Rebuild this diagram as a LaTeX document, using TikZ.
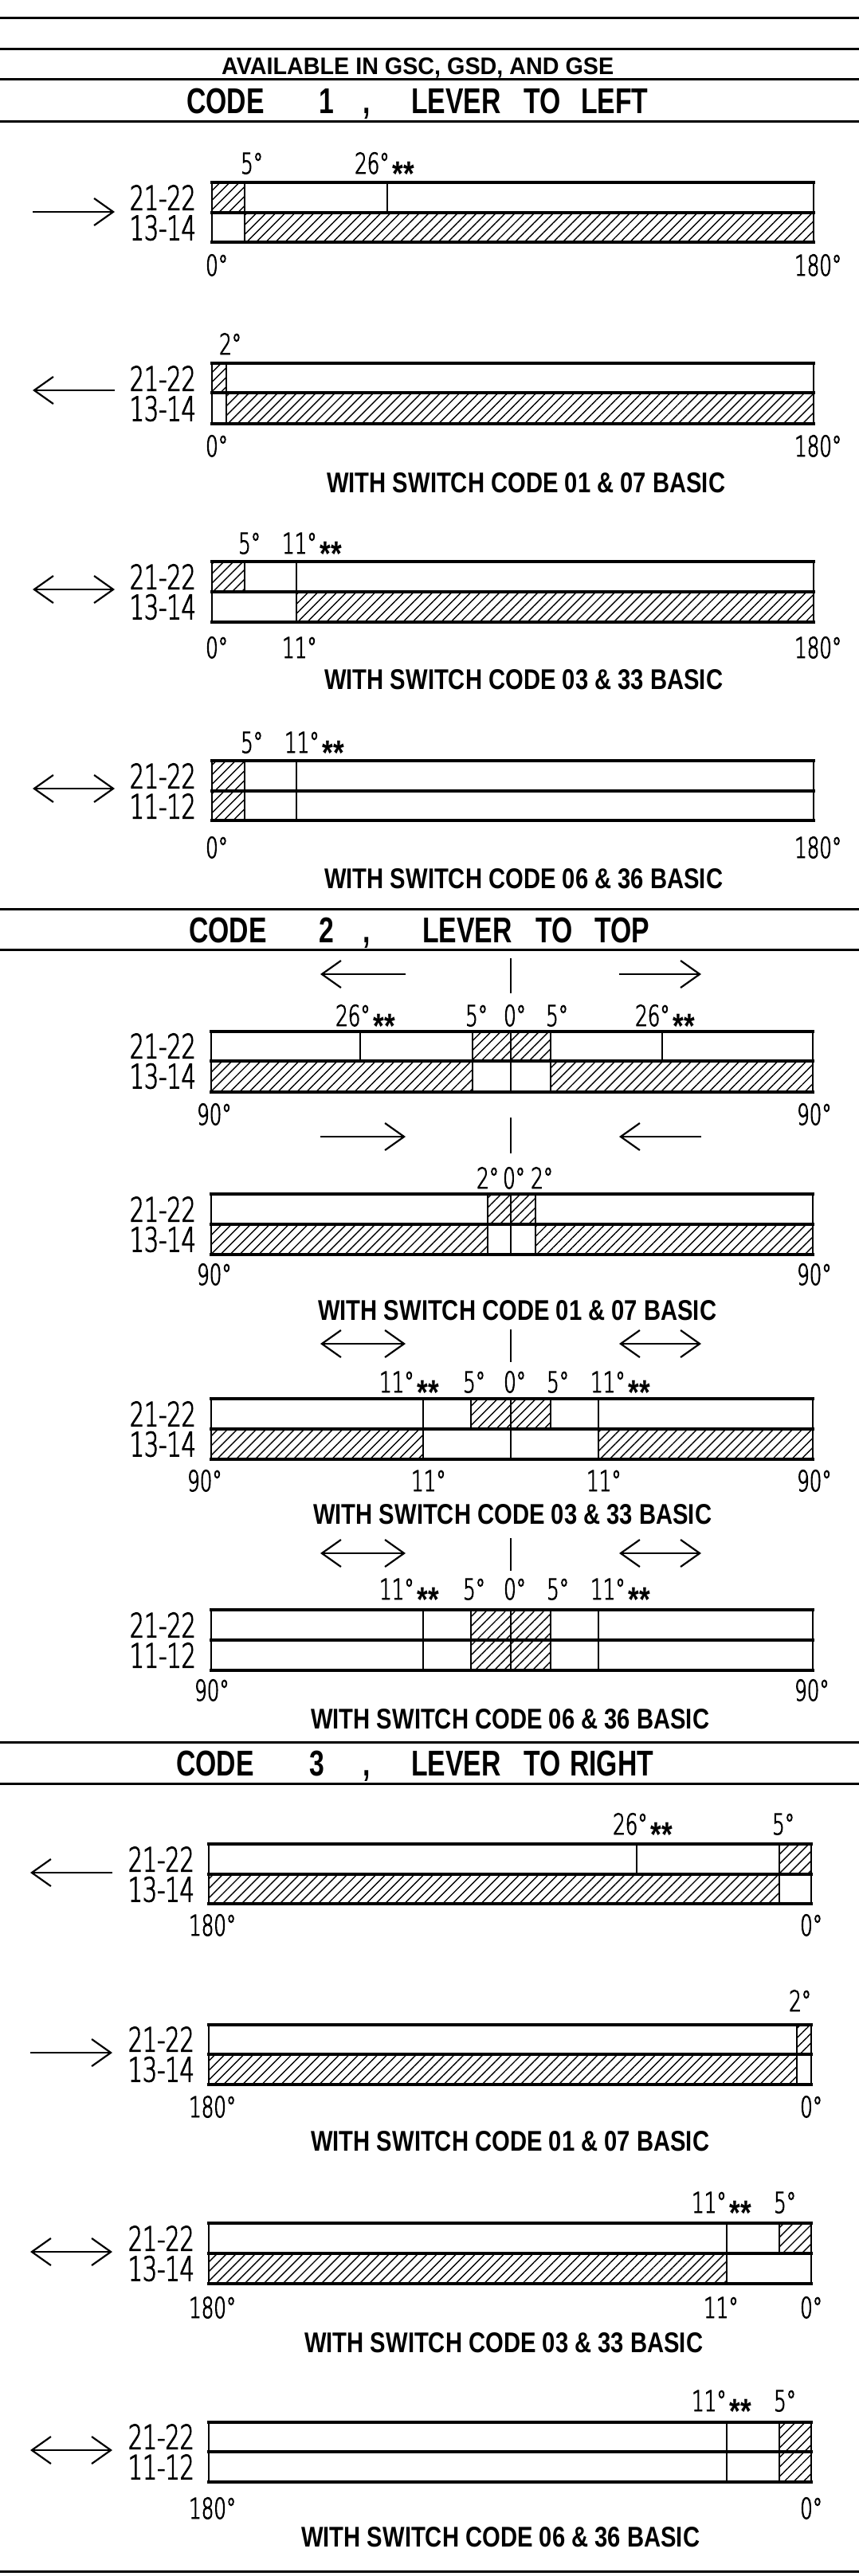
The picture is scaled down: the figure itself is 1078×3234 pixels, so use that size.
\documentclass[tikz,border=0pt]{standalone}
\usepackage{fontspec}
\setmainfont{Liberation Sans}
\newfontfamily\lblfam[FakeStretch=0.68,FakeBold=2.5]{DejaVuSans-ExtraLight.ttf}
\newfontfamily\ttlfam[FakeStretch=0.75]{Liberation Sans Bold}
\newfontfamily\starfam[FakeStretch=0.8]{Liberation Sans Bold}
\usepackage{graphicx}
\usetikzlibrary{arrows.meta,patterns.meta}
\newcommand\degsize{\lblfam\fontsize{36}{40}\selectfont}
\newcommand\rowsize{\lblfam\fontsize{42}{46}\selectfont}
\newcommand\ttlsize{\ttlfam\fontsize{45}{50}\selectfont}
\newcommand\twostars{\hspace{4pt}\raisebox{-15pt}{\starfam\fontsize{44}{44}\selectfont **}}
\newcommand\frm[5]{\draw[hl] (#1,#3) -- (#2,#3) (#1,#4) -- (#2,#4) (#1,#5) -- (#2,#5); \draw[vl] (#1,#3) -- (#1,#5) (#2,#3) -- (#2,#5);}
\newcommand\capt[4]{\node[ttl] (#1) at (#2,#3) {\resizebox{500pt}{25pt}{\bfseries WITH SWITCH CODE #4 BASIC}};}
\tikzset{
  hatch/.style={pattern={Lines[angle=45,distance=8.5pt,line width=1.4pt]}},
  hl/.style={line width=3.2pt,line cap=rect},
  vl/.style={line width=2pt,line cap=rect},
  rule/.style={line width=3pt},
  barb/.tip={Straight Barb[length=24pt,width=34pt,line width=2.2pt]},
  arr/.style={line width=2.6pt,-barb},
  darr/.style={line width=2.6pt,barb-barb},
  tick/.style={line width=2pt},
  dl/.style={font=\degsize,inner sep=0pt,anchor=base west},
  rlab/.style={font=\rowsize,inner sep=0pt,anchor=east},
  ttl/.style={inner sep=0pt,anchor=base west},
  big/.style={font=\ttlsize,inner sep=0pt,anchor=base west},
}
\begin{document}
\begin{tikzpicture}[x=1pt,y=-1pt]
\path[fill=white] (0,0) rectangle (1078,3234);
\useasboundingbox (0,0) rectangle (1078,3234);
% rules
\foreach \yy in {22,61,99,152,1141,1192,2187,2239,3228} \draw[rule] (0,\yy) -- (1078,\yy);
% headings
\node[ttl] (avail) at (278,93) {\resizebox{492pt}{21pt}{\bfseries AVAILABLE IN GSC, GSD, AND GSE}};
\node[big] (t1a) at (234,142) {CODE};
\node[big] (t1b) at (400,142) {1};
\node[big] (t1c) at (455,142) {,};
\node[big] (t1d) at (516,142) {LEVER};
\node[big] (t1e) at (657,142) {TO};
\node[big] (t1f) at (729,142) {LEFT};
\node[big] (t2a) at (237,1183) {CODE};
\node[big] (t2b) at (400,1183) {2};
\node[big] (t2c) at (455,1183) {,};
\node[big] (t2d) at (530,1183) {LEVER};
\node[big] (t2e) at (672,1183) {TO};
\node[big] (t2f) at (746,1183) {TOP};
\node[big] (t3a) at (221,2229) {CODE};
\node[big] (t3b) at (388,2229) {3};
\node[big] (t3c) at (455,2229) {,};
\node[big] (t3d) at (516,2229) {LEVER};
\node[big] (t3e) at (657,2229) {TO};
\node[big] (t3f) at (715,2229) {RIGHT};

% ================= CODE 1 =================
% block 1
\fill[hatch] (266,229) rectangle (307,267);
\fill[hatch] (307,267) rectangle (1021,304);
\draw[vl] (307,229) -- (307,304) (486,229) -- (486,267);
\frm{266}{1021}{229}{267}{304}
\node[dl] (a1) at (302,218) {5°};
\node[dl] (a2) at (445,218) {26°\twostars};
\node[dl] (a3) at (258,346) {0°};
\node[dl] (a4) at (997,346) {180°};
\node[rlab] (a5) at (246,248) {21-22};
\node[rlab] (a6) at (246,286) {13-14};
\draw[arr] (41,266) -- (144,266);
% block 2
\fill[hatch] (266,456) rectangle (284,493);
\fill[hatch] (284,493) rectangle (1021,532);
\draw[vl] (284,456) -- (284,532);
\frm{266}{1021}{456}{493}{532}
\node[dl] (b1) at (275,445) {2°};
\node[dl] (b3) at (258,573) {0°};
\node[dl] (b4) at (997,573) {180°};
\node[rlab] (b5) at (246,475) {21-22};
\node[rlab] (b6) at (246,513) {13-14};
\draw[arr] (144,490) -- (41,490);
\capt{b7}{410}{618}{01 \& 07}
% block 3
\fill[hatch] (266,705) rectangle (307,743);
\fill[hatch] (372,743) rectangle (1021,781);
\draw[vl] (307,705) -- (307,743) (372,705) -- (372,781);
\frm{266}{1021}{705}{743}{781}
\node[dl] (c1) at (299,695) {5°};
\node[dl] (c2) at (354,695) {11°\twostars};
\node[dl] (c3) at (258,826) {0°};
\node[dl] (c3b) at (354,826) {11°};
\node[dl] (c4) at (997,826) {180°};
\node[rlab] (c5) at (246,724) {21-22};
\node[rlab] (c6) at (246,762) {13-14};
\draw[darr] (41,740) -- (144,740);
\capt{c7}{407}{865}{03 \& 33}
% block 4
\fill[hatch] (266,955) rectangle (307,1030);
\draw[vl] (307,955) -- (307,1030) (372,955) -- (372,1030);
\frm{266}{1021}{955}{993}{1030}
\node[dl] (d1) at (302,945) {5°};
\node[dl] (d2) at (357,945) {11°\twostars};
\node[dl] (d3) at (258,1077) {0°};
\node[dl] (d4) at (997,1077) {180°};
\node[rlab] (d5) at (246,974) {21-22};
\node[rlab] (d6) at (246,1012) {11-12};
\draw[darr] (41,990) -- (144,990);
\capt{d7}{407}{1115}{06 \& 36}

% ================= CODE 2 =================
% block 1
\draw[arr] (509,1223) -- (402,1223);
\draw[arr] (777,1223) -- (880,1223);
\draw[tick] (641,1203) -- (641,1247);
\fill[hatch] (593,1295) rectangle (691,1332);
\fill[hatch] (265,1332) rectangle (593,1371);
\fill[hatch] (691,1332) rectangle (1020,1371);
\draw[vl] (452,1295) -- (452,1332) (831,1295) -- (831,1332)
          (593,1295) -- (593,1371) (641,1295) -- (641,1371) (691,1295) -- (691,1371);
\frm{265}{1020}{1295}{1332}{1371}
\node[dl] (e1) at (421,1288) {26°\twostars};
\node[dl] (e2) at (584,1288) {5°};
\node[dl] (e3) at (632,1288) {0°};
\node[dl] (e4) at (685,1288) {5°};
\node[dl] (e5) at (797,1288) {26°\twostars};
\node[dl] (e6) at (247,1412) {90°};
\node[dl] (e7) at (1000,1412) {90°};
\node[rlab] (e8) at (246,1313) {21-22};
\node[rlab] (e9) at (246,1351) {13-14};
% block 2
\draw[arr] (402,1427) -- (509,1427);
\draw[arr] (880,1427) -- (777,1427);
\draw[tick] (641,1403) -- (641,1448);
\fill[hatch] (612,1499) rectangle (672,1537);
\fill[hatch] (265,1537) rectangle (612,1575);
\fill[hatch] (672,1537) rectangle (1020,1575);
\draw[vl] (612,1499) -- (612,1575) (641,1499) -- (641,1575) (672,1499) -- (672,1575);
\frm{265}{1020}{1499}{1537}{1575}
\node[dl] (f1) at (598,1492) {2°};
\node[dl] (f2) at (631,1492) {0°};
\node[dl] (f3) at (666,1492) {2°};
\node[dl] (f6) at (247,1613) {90°};
\node[dl] (f7) at (1000,1613) {90°};
\node[rlab] (f8) at (246,1518) {21-22};
\node[rlab] (f9) at (246,1556) {13-14};
\capt{f10}{399}{1657}{01 \& 07}
% block 3
\draw[darr] (402,1687) -- (509,1687);
\draw[darr] (777,1687) -- (880,1687);
\draw[tick] (641,1669) -- (641,1710);
\fill[hatch] (591,1756) rectangle (691,1794);
\fill[hatch] (265,1794) rectangle (531,1832);
\fill[hatch] (751,1794) rectangle (1020,1832);
\draw[vl] (531,1756) -- (531,1832) (591,1756) -- (591,1794) (641,1756) -- (641,1832)
          (691,1756) -- (691,1794) (751,1756) -- (751,1832);
\frm{265}{1020}{1756}{1794}{1832}
\node[dl] (g1) at (476,1748) {11°\twostars};
\node[dl] (g2) at (581,1748) {5°};
\node[dl] (g3) at (632,1748) {0°};
\node[dl] (g4) at (686,1748) {5°};
\node[dl] (g5) at (741,1748) {11°\twostars};
\node[dl] (g6) at (235,1872) {90°};
\node[dl] (g6b) at (516,1872) {11°};
\node[dl] (g6c) at (736,1872) {11°};
\node[dl] (g7) at (1000,1872) {90°};
\node[rlab] (g8) at (246,1775) {21-22};
\node[rlab] (g9) at (246,1813) {13-14};
\capt{g10}{393}{1913}{03 \& 33}
% block 4
\draw[darr] (402,1950) -- (509,1950);
\draw[darr] (777,1950) -- (880,1950);
\draw[tick] (641,1931) -- (641,1972);
\fill[hatch] (591,2021) rectangle (691,2097);
\draw[vl] (531,2021) -- (531,2097) (591,2021) -- (591,2097) (641,2021) -- (641,2097)
          (691,2021) -- (691,2097) (751,2021) -- (751,2097);
\frm{265}{1020}{2021}{2059}{2097}
\node[dl] (h1) at (476,2008) {11°\twostars};
\node[dl] (h2) at (581,2008) {5°};
\node[dl] (h3) at (632,2008) {0°};
\node[dl] (h4) at (686,2008) {5°};
\node[dl] (h5) at (741,2008) {11°\twostars};
\node[dl] (h6) at (244,2135) {90°};
\node[dl] (h7) at (997,2135) {90°};
\node[rlab] (h8) at (246,2040) {21-22};
\node[rlab] (h9) at (246,2078) {11-12};
\capt{h10}{390}{2170}{06 \& 36}

% ================= CODE 3 =================
% block 1
\fill[hatch] (978,2315) rectangle (1018,2353);
\fill[hatch] (262,2353) rectangle (978,2390);
\draw[vl] (799,2315) -- (799,2353) (978,2315) -- (978,2390);
\frm{262}{1018}{2315}{2353}{2390}
\node[dl] (i1) at (769,2303) {26°\twostars};
\node[dl] (i2) at (969,2303) {5°};
\node[dl] (i3) at (237,2430) {180°};
\node[dl] (i4) at (1004,2430) {0°};
\node[rlab] (i5) at (244,2334) {21-22};
\node[rlab] (i6) at (244,2372) {13-14};
\draw[arr] (141,2351) -- (38,2351);
% block 2
\fill[hatch] (1000,2542) rectangle (1018,2579);
\fill[hatch] (262,2579) rectangle (1000,2617);
\draw[vl] (1000,2542) -- (1000,2617);
\frm{262}{1018}{2542}{2579}{2617}
\node[dl] (j1) at (990,2525) {2°};
\node[dl] (j3) at (237,2658) {180°};
\node[dl] (j4) at (1004,2658) {0°};
\node[rlab] (j5) at (244,2560) {21-22};
\node[rlab] (j6) at (244,2598) {13-14};
\draw[arr] (38,2577) -- (141,2577);
\capt{j7}{390}{2700}{01 \& 07}
% block 3
\fill[hatch] (978,2791) rectangle (1018,2829);
\fill[hatch] (262,2829) rectangle (912,2867);
\draw[vl] (912,2791) -- (912,2867) (978,2791) -- (978,2829);
\frm{262}{1018}{2791}{2829}{2867}
\node[dl] (k1) at (868,2778) {11°\twostars};
\node[dl] (k2) at (971,2778) {5°};
\node[dl] (k3) at (237,2910) {180°};
\node[dl] (k3b) at (883,2910) {11°};
\node[dl] (k4) at (1004,2910) {0°};
\node[rlab] (k5) at (244,2810) {21-22};
\node[rlab] (k6) at (244,2848) {13-14};
\draw[darr] (38,2827) -- (141,2827);
\capt{k7}{382}{2953}{03 \& 33}
% block 4
\fill[hatch] (978,3041) rectangle (1018,3116);
\draw[vl] (912,3041) -- (912,3116) (978,3041) -- (978,3116);
\frm{262}{1018}{3041}{3078}{3116}
\node[dl] (m1) at (868,3027) {11°\twostars};
\node[dl] (m2) at (971,3027) {5°};
\node[dl] (m3) at (237,3162) {180°};
\node[dl] (m4) at (1004,3162) {0°};
\node[rlab] (m5) at (244,3059) {21-22};
\node[rlab] (m6) at (244,3097) {11-12};
\draw[darr] (38,3076) -- (141,3076);
\capt{m7}{378}{3197}{06 \& 36}
\end{tikzpicture}
\end{document}
